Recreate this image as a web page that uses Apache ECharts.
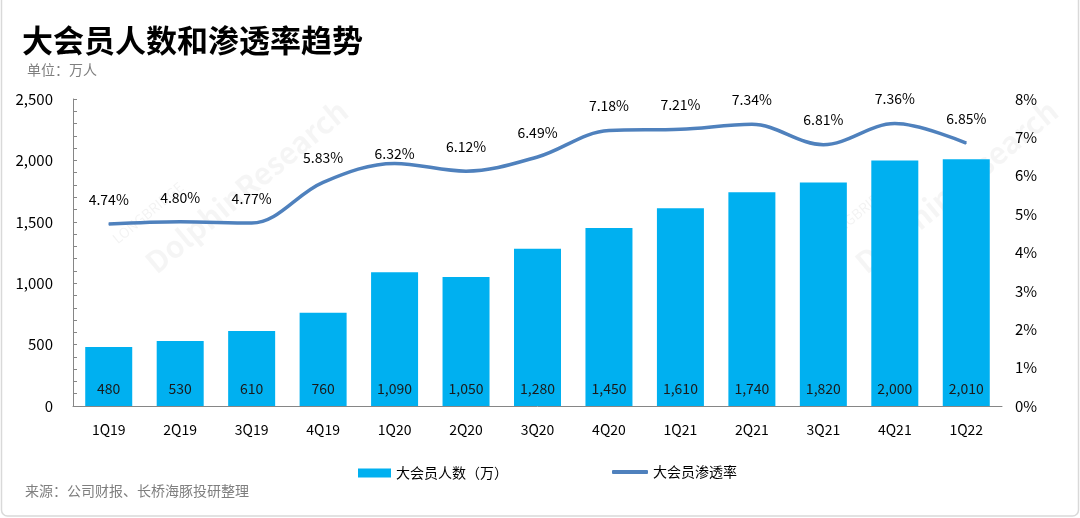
<!DOCTYPE html>
<html><head><meta charset="utf-8">
<script src="https://cdn.jsdelivr.net/npm/echarts@6/dist/echarts.min.js"></script>
<style>html,body{margin:0;padding:0;background:#fff}#c{width:1080px;height:518px}</style>
</head><body><div id="c"></div>
<script>
const categories = ['1Q19','2Q19','3Q19','4Q19','1Q20','2Q20','3Q20','4Q20','1Q21','2Q21','3Q21','4Q21','1Q22'];
const members = [480,530,610,760,1090,1050,1280,1450,1610,1740,1820,2000,2010];
const penetration = [4.74,4.80,4.77,5.83,6.32,6.12,6.49,7.18,7.21,7.34,6.81,7.36,6.85];
const leftTicks = [0,500,1000,1500,2000,2500];
const rightTicks = [0,1,2,3,4,5,6,7,8];

const FONT = '"Noto Sans CJK SC", "Noto Sans", sans-serif';
const chart = echarts.init(document.getElementById('c'), null, {renderer:'canvas'});
const lineData = penetration.map((v,i)=>({value:v, label: i===4 ? {distance:2} : {}}));
chart.setOption({
  backgroundColor:'#fff',
  animation:false,
  textStyle:{fontFamily:FONT},
  graphic:[
    {type:'rect', shape:{x:1.5,y:-10,width:1077,height:526,r:6}, style:{fill:'none',stroke:'#d9d9d9',lineWidth:1.5}, z:-1},
    {type:'text', left:22, top:25, style:{text:'大会员人数和渗透率趋势', font:'bold 31px '+FONT, fill:'#000'}},
    {type:'text', left:27, top:63, style:{text:'单位：万人', font:'14px '+FONT, fill:'#7f7f7f'}},
    {type:'text', left:25, top:484, style:{text:'来源：公司财报、长桥海豚投研整理', font:'14px '+FONT, fill:'#7f7f7f'}},
    {type:'text', x:110, y:235, rotation:Math.PI*0.22, style:{text:'LONGBRIDGE', font:'14px '+FONT, fill:'rgba(0,0,0,0.05)'}},
    {type:'text', x:140, y:255, rotation:Math.PI*0.22, style:{text:'DolphinResearch', font:'bold 30px '+FONT, fill:'rgba(0,0,0,0.04)'}},
    {type:'text', x:820, y:235, rotation:Math.PI*0.22, style:{text:'LONGBRIDGE', font:'14px '+FONT, fill:'rgba(0,0,0,0.05)'}},
    {type:'text', x:850, y:255, rotation:Math.PI*0.22, style:{text:'DolphinResearch', font:'bold 30px '+FONT, fill:'rgba(0,0,0,0.04)'}}
  ],
  legend:[
    {bottom:33, left:353, textStyle:{fontSize:14, color:'#000', fontFamily:FONT},
     data:[{name:'大会员人数（万）', icon:'rect'}], itemWidth:33, itemHeight:9, itemGap:4},
    {bottom:34, left:607, textStyle:{fontSize:14, color:'#000', fontFamily:FONT},
     data:[{name:'大会员渗透率', icon:'roundRect'}], itemWidth:36, itemHeight:4, itemGap:4}
  ],
  grid:{left:73, right:78, top:99, bottom:112},
  xAxis:{
    type:'category', data:categories,
    axisLine:{show:true, lineStyle:{color:'#868686', width:1}},
    axisTick:{show:false},
    axisLabel:{color:'#000', fontSize:14, margin:17, fontFamily:FONT}
  },
  yAxis:[
    {type:'value', min:0, max:2500, interval:500,
     splitLine:{show:false},
     axisLine:{show:true, lineStyle:{color:'#868686'}},
     axisTick:{show:true, inside:true, length:4, lineStyle:{color:'#868686'}},
     minorTick:{show:true, splitNumber:5, length:4, lineStyle:{color:'#868686'}},
     axisLabel:{color:'#000', fontSize:15, margin:20, fontFamily:FONT,
       formatter:v=>v.toLocaleString('en-US')}},
    {type:'value', min:0, max:8, interval:1,
     splitLine:{show:false}, axisLine:{show:false}, axisTick:{show:false},
     axisLabel:{color:'#000', fontSize:15, margin:13, fontFamily:FONT, formatter:v=>v+'%'}}
  ],
  series:[
    {name:'大会员人数（万）', type:'bar', data:members, barWidth:47,
     itemStyle:{color:'#00b0f0'},
     label:{show:true, position:'insideBottom', distance:10, color:'#1a1a1a', fontSize:14, fontFamily:FONT,
       formatter:p=>p.value.toLocaleString('en-US')}},
    {name:'大会员渗透率', type:'line', yAxisIndex:1, data:lineData, smooth:0.35,
     symbol:'circle', symbolSize:1, showSymbol:true,
     lineStyle:{color:'#4f81bd', width:3.5}, itemStyle:{color:'#4f81bd'},
     label:{show:true, position:'top', distance:17, color:'#000', fontSize:14, fontFamily:FONT,
       formatter:p=>p.value.toFixed(2)+'%'}}
  ]
});
</script></body></html>
